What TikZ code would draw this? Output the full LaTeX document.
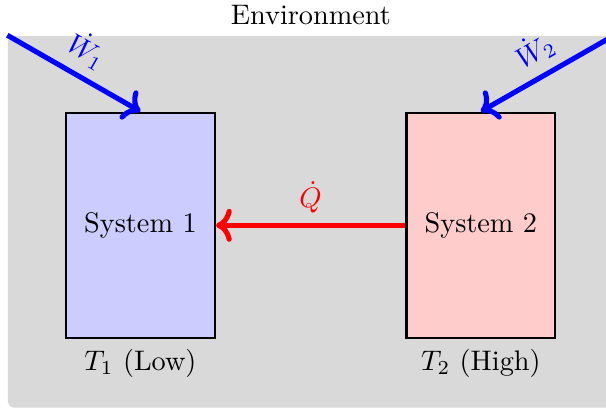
\documentclass[tikz,border=0pt]{standalone}
\usepackage{tikz}
\usetikzlibrary{arrows.meta}
\tikzset{
  envbox/.style={fill=gray!30, rounded corners=2pt, minimum width=7.53cm, minimum height=4.62cm, inner sep=0pt},
  sysbox/.style={draw=black, thick, minimum width=1.85cm, minimum height=2.8cm},
  work/.style={-{To}, draw=blue, line width=1.8pt},
  heat/.style={-{To}, draw=red, line width=1.8pt}
}

\begin{document}
\begin{tikzpicture}
  \clip (0,0) rectangle (7.53,5.09);
  % Environment around both systems
  \node[envbox, label={above:Environment}] (env) at (3.863,2.335) {};

  % The two systems
  \node[sysbox, fill=blue!20, label={below:$T_1$ (Low)}] (sys1) at (1.745,2.29) {System 1};
  \node[sysbox, fill=red!20, label={below:$T_2$ (High)}] (sys2) at (5.975,2.29) {System 2};

  % Work done on each system
  \draw[work] (env.north west) -- node[above, sloped, blue]{$\dot{W}_1$} (sys1.north);
  \draw[work] (env.north east) -- node[above, sloped, blue]{$\dot{W}_2$} (sys2.north);

  % Heat flow from hot to cold
  \draw[heat] (sys2.west) -- node[above, red]{$\dot{Q}$} (sys1.east);
\end{tikzpicture}
\end{document}
